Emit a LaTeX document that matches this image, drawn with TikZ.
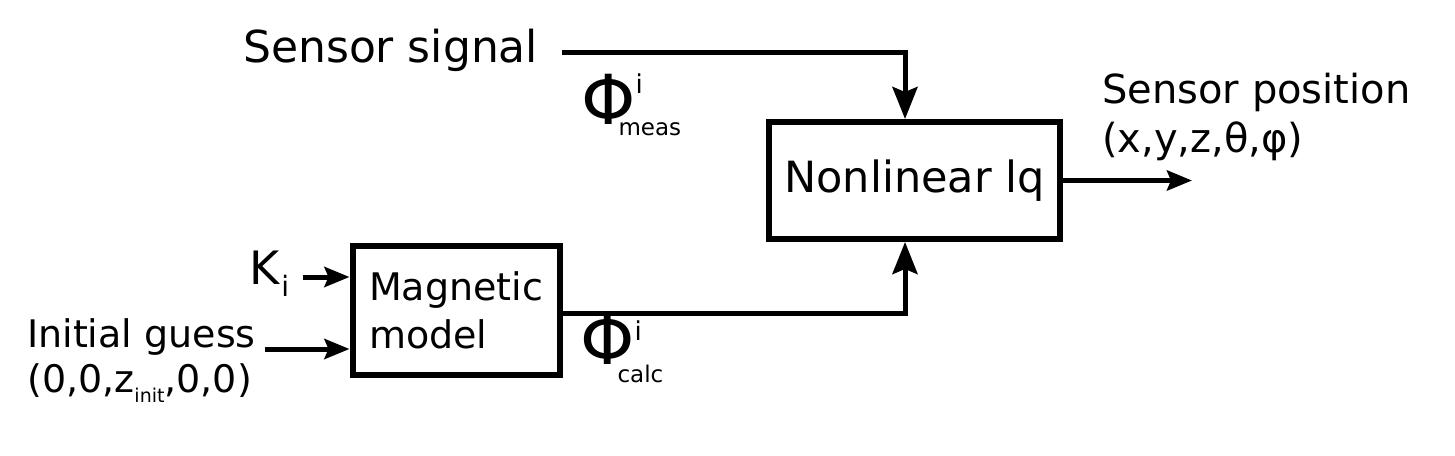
\documentclass[tikz,border=0pt]{standalone}
\usepackage{fontspec}
\setmainfont{DejaVu Sans}
\usetikzlibrary{arrows.meta,positioning}

\newcommand{\fluxlabel}[3]{{\fontsize{69}{69}\selectfont Φ}\rlap{\kern0pt\raisebox{#1}{\fontsize{26}{26}\selectfont i}}\kern-17pt\raisebox{#2}{\fontsize{23}{23}\selectfont #3}}

\begin{document}
\begin{tikzpicture}[x=1pt,y=-1pt,inner sep=0pt,
   block/.style={draw,line width=6pt},
   wire/.style={line width=5pt},
   bigin/.style={wire,-{Stealth[length=32pt,width=25pt,inset=5pt]}},
   smallin/.style={wire,-{Stealth[length=25pt,width=20pt,inset=4pt]}}]
   \useasboundingbox (0,0) rectangle (1455,455);

   \node[block,minimum width=291pt,minimum height=117pt,font=\fontsize{43}{43}\selectfont] (nl) at (914.5,180.5) {Nonlinear lq};
   \node[block,minimum width=207pt,minimum height=129pt,align=left,font=\fontsize{38}{48}\selectfont] (mm) at (456,310) {Magnetic\\model};

   \node[anchor=base west,font=\fontsize{44}{44}\selectfont] (sig) at (243,62) {Sensor signal};
   \node[anchor=base west] (meas) at (581,124) {\fluxlabel{31pt}{-11pt}{meas}};
   \node[anchor=base west] (calc) at (580,364) {\fluxlabel{24pt}{-18pt}{calc}};
   \node[anchor=base west,font=\fontsize{46}{46}\selectfont] (ki) at (249,284) {K\kern2pt\raisebox{-12pt}{\fontsize{28}{28}\selectfont i}};
   \node[anchor=base west,font=\fontsize{38}{38}\selectfont] (guess) at (27,347) {Initial guess};
   \node[below=45pt of guess.base west,anchor=base west,font=\fontsize{38}{38}\selectfont] (guessval) {(0,0,z\raisebox{-10pt}{\fontsize{19}{19}\selectfont init},0,0)};
   \node[anchor=base west,font=\fontsize{40}{40}\selectfont] (pos) at (1102,103) {Sensor position};
   \node[below=49pt of pos.base west,anchor=base west,font=\fontsize{40}{40}\selectfont] (posval) {(x,y,z,θ,φ)};

   \coordinate[left=9.5pt of nl.north] (nltop);
   \coordinate[left=9.5pt of nl.south] (nlbot);
   \coordinate[above=33pt of mm.west] (mmk);
   \coordinate[below=39pt of mm.west] (mmg);
   \coordinate[right=129pt of nl.east] (out);

   \draw[bigin] ([xshift=24pt,yshift=-2.5pt]sig.east) -| (nltop);
   \draw[bigin] ([yshift=-3pt]mm.east) -| (nlbot);
   \draw[smallin] ([xshift=14pt]ki.east |- mmk) -- (mmk);
   \draw[smallin] ([xshift=9pt]guess.east |- mmg) -- (mmg);
   \draw[smallin] (nl.east) -- (out);
\end{tikzpicture}
\end{document}
